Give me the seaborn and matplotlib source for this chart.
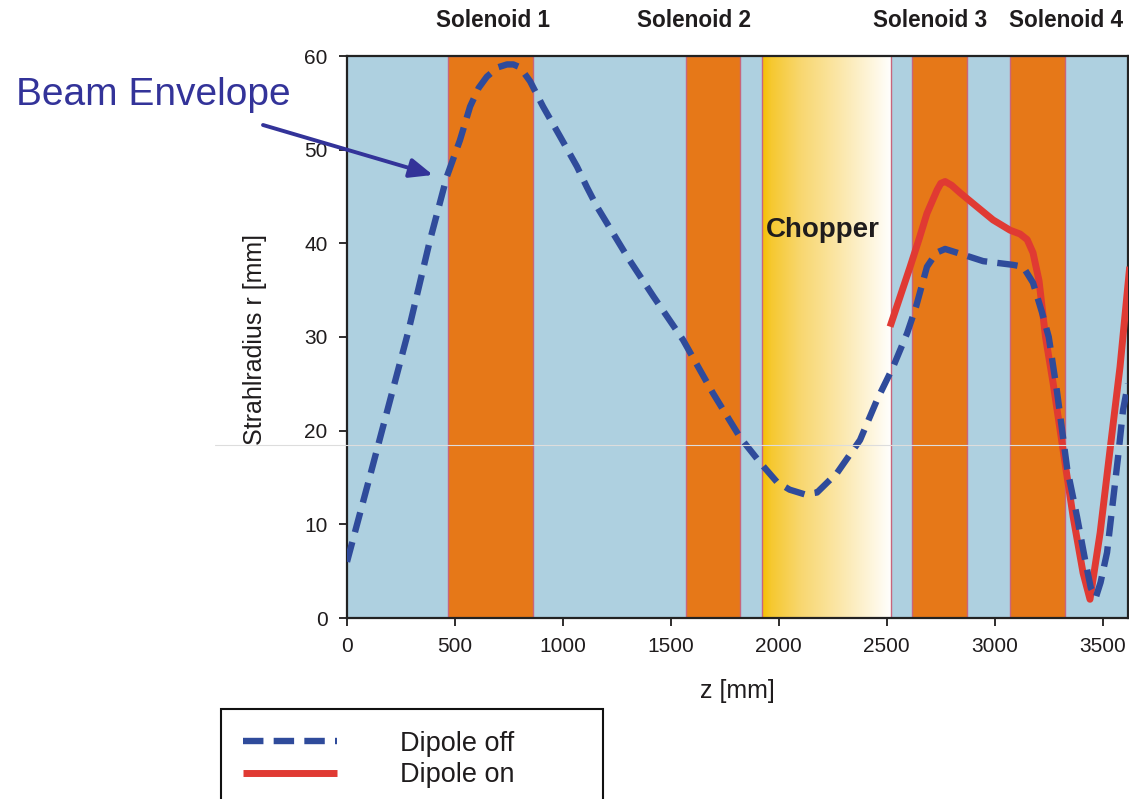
import matplotlib
matplotlib.use("Agg")
import numpy as np
import pandas as pd
import seaborn as sns
import matplotlib.pyplot as plt
import matplotlib.transforms as mtransforms
from matplotlib.colors import LinearSegmentedColormap
from matplotlib.lines import Line2D

# --- beam envelope, dipole off (z in mm, r in mm)
z_off = [0, 100, 200, 284, 384, 462, 523, 570, 610, 648, 700, 741, 770, 801, 848,
         908, 987, 1065, 1111, 1158, 1300, 1420, 1556, 1695, 1820, 1913, 1992,
         2050, 2120, 2177, 2270, 2376, 2455, 2529, 2594, 2635, 2686, 2730, 2770,
         2825, 2946, 3085, 3131, 3177, 3219, 3250, 3288, 3335, 3381, 3420, 3445,
         3468, 3490, 3520, 3548, 3571, 3594, 3617]
r_off = [6.0, 14.6, 23.3, 30.6, 40.3, 47.1, 51.0, 54.6, 56.6, 57.8, 58.8, 59.1,
         59.1, 58.8, 57.3, 54.6, 51.4, 48.2, 46.0, 43.9, 38.5, 34.3, 29.7, 24.0,
         19.3, 16.6, 14.5, 13.7, 13.2, 13.4, 15.5, 19.0, 23.3, 26.8, 30.4, 33.2,
         37.5, 39.0, 39.4, 39.0, 38.1, 37.7, 37.5, 35.8, 32.6, 30.0, 24.2, 16.0,
         10.8, 6.0, 3.2, 2.2, 3.8, 7.0, 12.6, 17.2, 22.2, 25.0]

# --- beam envelope, dipole on
z_on = [2515, 2560, 2608, 2650, 2686, 2733, 2750, 2770, 2800, 2839, 2918, 2992,
        3071, 3117, 3150, 3177, 3205, 3220, 3235, 3270, 3316, 3363, 3409, 3441,
        3488, 3534, 3580, 3625]
r_on = [31.1, 34.2, 37.5, 40.5, 43.2, 45.7, 46.4, 46.6, 46.2, 45.4, 43.9, 42.5,
        41.4, 41.0, 40.4, 39.0, 36.0, 33.0, 30.0, 25.1, 18.0, 10.8, 4.8, 2.0,
        9.1, 18.0, 26.8, 37.5]

# --- beamline elements
solenoid_names = ["Solenoid 1", "Solenoid 2", "Solenoid 3", "Solenoid 4"]
solenoid_start = [470, 1570, 2615, 3070]
solenoid_end = [860, 1820, 2870, 3325]
solenoid_label_z = [675, 1607, 2700, 3330]
chopper_start, chopper_end = 1920, 2520

x_ticks = [0, 500, 1000, 1500, 2000, 2500, 3000, 3500]
y_ticks = [0, 10, 20, 30, 40, 50, 60]

series_labels = ["Dipole off", "Dipole on"]

BG_BLUE = "#aed0e0"
ORANGE = "#e67818"
EDGE = "#c8657c"
LINE_BLUE = "#2f4b9b"
LINE_RED = "#e03a33"
NOTE_BLUE = "#333399"
TEXT = "#1f1c1d"

sns.set_theme(style="ticks")
plt.rcParams["font.family"] = ["Liberation Sans", "DejaVu Sans"]

W, H = 1129, 799
fig = plt.figure(figsize=(W / 100, H / 100), dpi=100)
fig.patch.set_facecolor("white")
ax = fig.add_axes([347 / W, 1 - 618 / H, (1128 - 347) / W, (618 - 56) / H])
ax.set_facecolor(BG_BLUE)

# solenoid bands
for s, e in zip(solenoid_start, solenoid_end):
    ax.axvspan(s, e, facecolor=ORANGE, edgecolor=EDGE, linewidth=1.0, zorder=1)

# chopper: gold fading to white
cmap = LinearSegmentedColormap.from_list(
    "chopper",
    [(0.0, "#f5bf00"), (0.07, "#f6c830"), (0.3, "#f8d770"),
     (0.6, "#fbe7aa"), (0.85, "#fef6de"), (1.0, "#ffffff")])
ax.imshow(np.linspace(0, 1, 256).reshape(1, -1), extent=[chopper_start, chopper_end, 0, 60],
          aspect="auto", cmap=cmap, zorder=1, interpolation="bilinear")
for zc in (chopper_start, chopper_end):
    ax.axvline(zc, color=EDGE, linewidth=1.0, zorder=1.5)

# envelope curves
df_off = pd.DataFrame({"z": z_off, "r": r_off})
df_on = pd.DataFrame({"z": z_on, "r": r_on})
sns.lineplot(data=df_off, x="z", y="r", ax=ax, color=LINE_BLUE, linewidth=4.6,
             estimator=None, sort=False, zorder=4)
line_off = ax.lines[-1]
line_off.set_dashes((3.2, 1.6))
line_off.set_dash_capstyle("butt")
line_off.set_dash_joinstyle("round")
sns.lineplot(data=df_on, x="z", y="r", ax=ax, color=LINE_RED, linewidth=5.0,
             estimator=None, sort=False, zorder=3)
line_on = ax.lines[-1]
line_on.set_solid_capstyle("butt")
line_on.set_solid_joinstyle("round")

ax.set_xlim(0, 3617)
ax.set_ylim(0, 60)
ax.set_xticks(x_ticks)
ax.set_yticks(y_ticks)
ax.tick_params(axis="both", direction="out", length=6, width=1.3, pad=8,
               labelsize=15, colors=TEXT)
for sp in ax.spines.values():
    sp.set_visible(True)
    sp.set_color("#222222")
    sp.set_linewidth(1.6)

ax.set_xlabel("z [mm]", fontsize=18, color=TEXT)
ax.xaxis.set_label_coords(0.5, -0.108)
ax.set_ylabel("Strahlradius r [mm]", fontsize=18, color=TEXT)
ax.yaxis.set_label_coords(-0.1024, 0.495)

# element labels
trans = mtransforms.blended_transform_factory(ax.transData, fig.transFigure)
for name, zl in zip(solenoid_names, solenoid_label_z):
    ax.text(zl, 1 - 27 / H, name, transform=trans, ha="center", va="baseline",
            fontsize=16.3, fontweight="bold", color=TEXT)
ax.text(2205, 40.7, "Chopper", ha="center", va="baseline", fontsize=20,
        fontweight="bold", color=TEXT, zorder=5)

# annotation
fig.text(16 / W, 1 - 105 / H, "Beam Envelope", fontsize=28, color=NOTE_BLUE,
         ha="left", va="baseline")
ax.annotate("", xy=(398, 47.3), xycoords="data",
            xytext=(263 / W, 1 - 125 / H), textcoords="figure fraction",
            arrowprops=dict(arrowstyle="-|>,head_length=1.0,head_width=0.42",
                            mutation_scale=14, color=NOTE_BLUE, lw=2.8,
                            shrinkA=0, shrinkB=0), zorder=6)

# legend (its lower edge runs past the bottom of the figure)
leg = ax.legend([line_off, line_on], series_labels, loc="upper left",
                bbox_to_anchor=(221 / W, 0, (603 - 221) / W, 1 - 709 / H),
                bbox_transform=fig.transFigure, mode="expand", borderaxespad=0,
                fontsize=19.5, handlelength=3.5, handletextpad=2.3,
                labelspacing=0.2, borderpad=0.8, frameon=True, fancybox=False,
                framealpha=1, edgecolor="#111111", facecolor="white")
leg.get_frame().set_linewidth(1.5)
for t in leg.get_texts():
    t.set_color(TEXT)

# faint scan line across the figure
fig.add_artist(Line2D([215 / W, 1.0], [1 - 445 / H, 1 - 445 / H],
                      transform=fig.transFigure, color="#dddddd", linewidth=0.8,
                      zorder=10))

fig.savefig("out.png", dpi=100, facecolor="white")
